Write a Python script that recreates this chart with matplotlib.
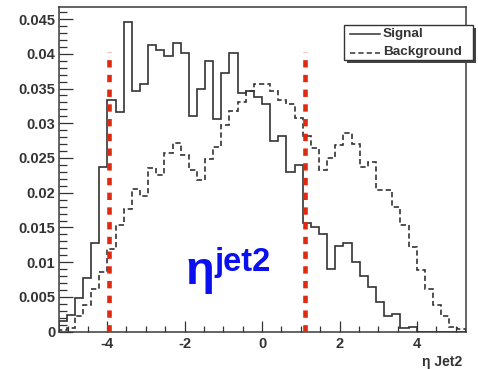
import numpy as np
import matplotlib
matplotlib.use("Agg")
import matplotlib.pyplot as plt
from matplotlib.patches import Rectangle
from matplotlib.lines import Line2D

plt.rcParams['lines.scale_dashes'] = False
plt.rcParams['font.family'] = ['Liberation Sans', 'DejaVu Sans']

# ---- data ----
x_min, x_max, n_bins = -5.25, 5.25, 50
signal = [0.0015, 0.0024, 0.0049, 0.0078, 0.0127, 0.0237, 0.0334, 0.0316, 0.0445, 0.0347,
          0.0357, 0.0413, 0.0406, 0.0397, 0.0416, 0.0401, 0.0310, 0.0350, 0.0389, 0.0306,
          0.0373, 0.0401, 0.0344, 0.0346, 0.0338, 0.0328, 0.0274, 0.0282, 0.0230, 0.0240,
          0.0156, 0.0151, 0.0140, 0.0090, 0.0124, 0.0127, 0.0101, 0.0080, 0.0065, 0.0043,
          0.0023, 0.0025, 0.0005, 0.0007, 0.0, 0.0, 0.0, 0.0, 0.0, 0.0]
background = [0.0002, 0.0005, 0.0022, 0.0039, 0.0061, 0.0086, 0.0119, 0.0153, 0.0177, 0.0205,
              0.0195, 0.0235, 0.0225, 0.0257, 0.0272, 0.0254, 0.0232, 0.0219, 0.0248, 0.0266,
              0.0298, 0.0318, 0.0330, 0.0346, 0.0357, 0.0357, 0.0347, 0.0333, 0.0327, 0.0308,
              0.0282, 0.0265, 0.0233, 0.0250, 0.0269, 0.0286, 0.0270, 0.0237, 0.0244, 0.0204,
              0.0204, 0.0180, 0.0153, 0.0122, 0.0089, 0.0062, 0.0039, 0.0023, 0.0007, 0.0004]
cut_lines = [-3.95, 1.1]
cut_top = 0.0403
x_ticks = [-4, -2, 0, 2, 4]
y_ticks = [0, 0.005, 0.01, 0.015, 0.02, 0.025, 0.03, 0.035, 0.04, 0.045]
y_tick_labels = ['0', '0.005', '0.01', '0.015', '0.02', '0.025', '0.03', '0.035', '0.04', '0.045']
legend_labels = ['Signal', 'Background']
x_title = 'η Jet2'

W, H = 478, 369
fig = plt.figure(figsize=(W / 100, H / 100), dpi=100)
ax = fig.add_axes([58.6 / W, 1 - 331.7 / H, (465.5 - 58.6) / W, (331.7 - 7) / H])

edges = np.linspace(x_min, x_max, n_bins + 1)
hist_col = '#333333'
ax.stairs(signal, edges, color=hist_col, lw=1.2)
ax.stairs(background, edges, color=hist_col, lw=1.2, linestyle=(0, (3.8, 2.2)))

ax.vlines(cut_lines, 0, cut_top, colors='#e02a10', lw=3.3, linestyles=[(0, (5.3, 5.3))], zorder=5)

ax.set_xlim(x_min, x_max)
ax.set_ylim(0, 0.04673)

ax.set_xticks(x_ticks)
ax.set_xticklabels([str(t) for t in x_ticks])
ax.set_xticks(np.arange(-5, 5.01, 0.5), minor=True)
ax.set_yticks(y_ticks)
ax.set_yticklabels(y_tick_labels)
ax.set_yticks(np.arange(0, 0.0465, 0.001), minor=True)

ax.tick_params(axis='both', which='both', direction='in', top=False, right=False, colors='#333333')
ax.tick_params(axis='y', which='major', length=10, width=0.9, pad=2.5, labelsize=10.5)
ax.tick_params(axis='y', which='minor', length=6, width=0.9)
ax.tick_params(axis='x', which='major', length=8, width=0.9, pad=3.5, labelsize=10.5)
ax.tick_params(axis='x', which='minor', length=4.3, width=0.9)
for lab in ax.get_xticklabels() + ax.get_yticklabels():
    lab.set_fontweight('bold')
    lab.set_color('#333333')
for s in ax.spines.values():
    s.set_color('#3a3a3a')
    s.set_linewidth(1.1)

def fx(px):
    return px / W

def fy(py):
    return 1 - py / H

# x title
fig.text(fx(462), fy(362), x_title, ha='right', va='center', fontsize=10,
         fontweight='bold', color='#333333')

# legend (manual ROOT-style box with shadow)
bx0, bx1, by0, by1 = 344, 473, 25, 60
fig.patches.append(Rectangle((fx(bx0 + 2.5), fy(by1 + 2.5)), (bx1 - bx0) / W, (by1 - by0) / H,
                             transform=fig.transFigure, facecolor='#444444', edgecolor='none', zorder=10))
fig.patches.append(Rectangle((fx(bx0), fy(by1)), (bx1 - bx0) / W, (by1 - by0) / H,
                             transform=fig.transFigure, facecolor='white', edgecolor='#333333',
                             lw=1.0, zorder=11))
styles = ['-', (0, (3.8, 2.2))]
ys = [34, 52.5]
for lab, st, yy in zip(legend_labels, styles, ys):
    fig.lines.append(Line2D([fx(350), fx(380)], [fy(yy), fy(yy)], transform=fig.transFigure,
                            color=hist_col, lw=1.1, linestyle=st, zorder=12))
    fig.text(fx(383), fy(yy), lab, ha='left', va='center', fontsize=9.7, fontweight='bold',
             color='#333333', zorder=12)

# blue annotation
fig.text(fx(185.5), fy(284), 'η', ha='left', va='baseline', fontsize=34, fontweight='bold',
         color='#0a10ee')
fig.text(fx(214.5), fy(270.5), 'jet2', ha='left', va='baseline', fontsize=23.5, fontweight='bold',
         color='#0a10ee')

fig.savefig('out.png', dpi=100)
